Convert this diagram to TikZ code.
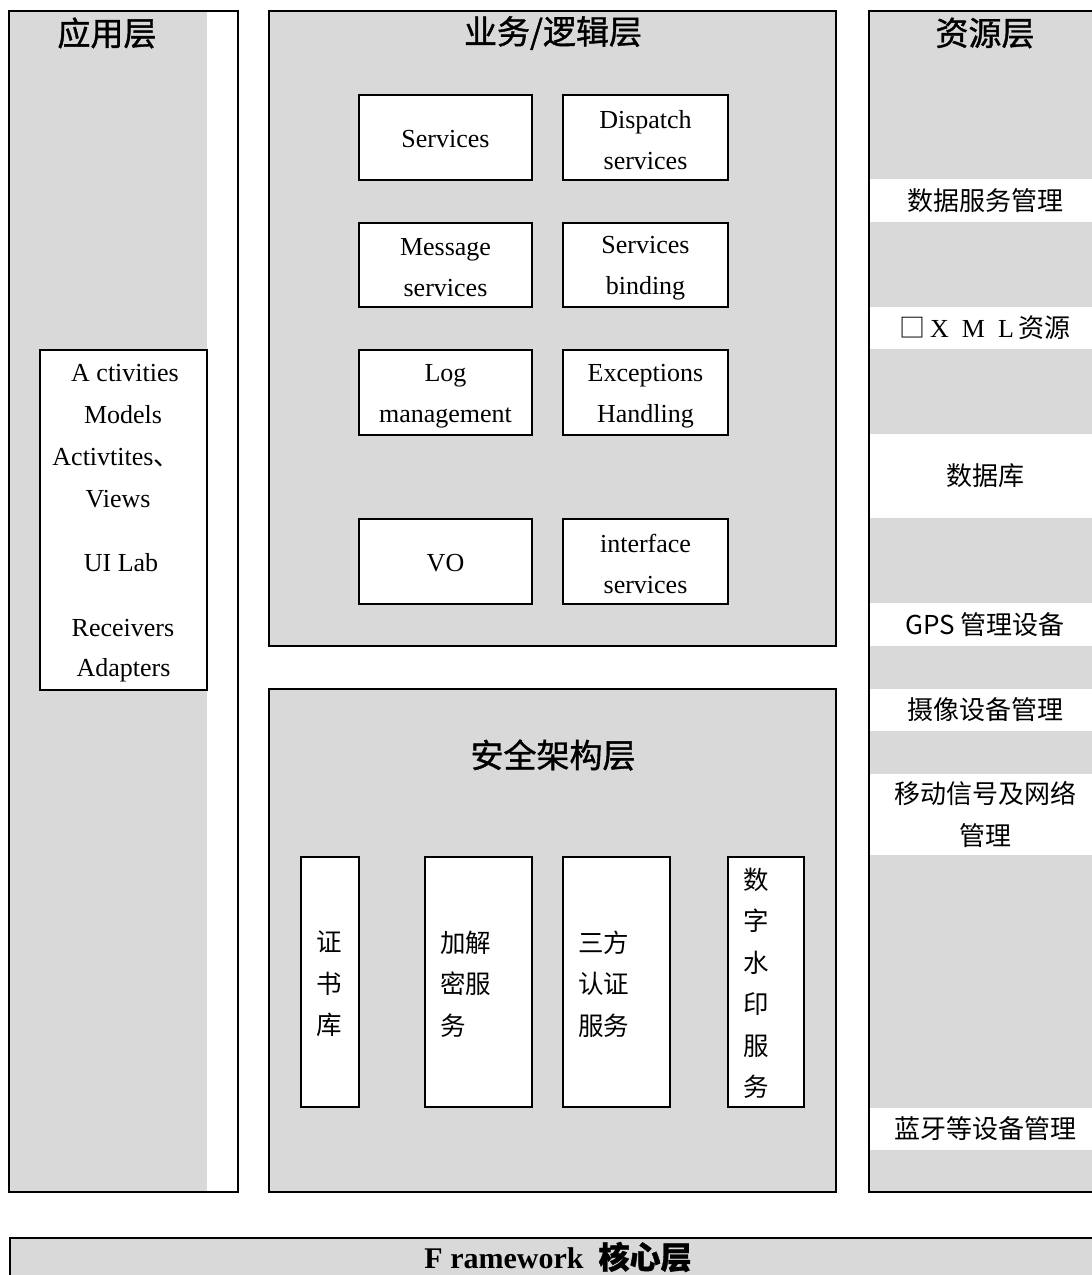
\documentclass[tikz,border=0pt]{standalone}
\usepackage{fontspec}
\setmainfont{Liberation Serif}
\newfontfamily\cjk{Noto Sans CJK SC}
\newfontfamily\cjkt{Noto Sans CJK SC}[FakeBold=1.2]
\definecolor{panel}{RGB}{217,217,217}
\begin{document}
\begin{tikzpicture}[x=1pt,y=-1pt,
  frame/.style={draw=black,line width=1.8pt,inner sep=0pt},
  wbox/.style={draw=black,fill=white,line width=1.6pt,inner sep=0pt},
  lat/.style={font=\fontsize{26}{41}\selectfont,align=center,inner sep=0pt},
  zh/.style={font=\cjk\fontsize{25.5}{41.5}\selectfont,inner sep=0pt},
  zhl/.style={font=\cjk\fontsize{25.5}{41.5}\selectfont,align=left,inner sep=0pt,anchor=west},
  ttl/.style={font=\cjkt\fontsize{33}{36}\selectfont,inner sep=0pt},
  strip/.style={fill=white,draw=none,inner sep=0pt,minimum width=230pt,font=\cjk\fontsize{26}{41.5}\selectfont,align=center}
]
\useasboundingbox (0,0) rectangle (1092,1275);
\clip (0,0) rectangle (1092,1275);

% ---------- application layer ----------
\fill[panel] (9,11) rectangle (207,1192);
\node[frame,minimum width=229pt,minimum height=1181pt] (app) at (123.5,601.5) {};
\node[ttl] (appt) at (107,33) {应用层};
\node[wbox,minimum width=167pt,minimum height=340pt] (ui) at (123.5,520) {};
\node[lat] (a1) at (125,373) {A ctivities};
\node[lat] (a2) at (123,415) {Models};
\node[lat] (a3) at (116,458) {Activtites{\cjk 、}};
\node[lat] (a4) at (118,499) {Views};
\node[lat] (a5) at (121,563) {UI Lab};
\node[lat] (a6) at (123,628) {Receivers};
\node[lat] (a7) at (123.5,670) {Adapters};

% ---------- business / logic layer ----------
\node[frame,fill=panel,minimum width=567pt,minimum height=635pt] (biz) at (552.5,328.5) {};
\node[ttl] (bizt) at (553,33) {业务/逻辑层};
\node[wbox,lat,minimum width=173pt,minimum height=85pt] (s1) at (445.5,137.5) {};
\node[wbox,lat,minimum width=165pt,minimum height=85pt] (s2) at (645.5,137.5) {};
\node[wbox,lat,minimum width=173pt,minimum height=84pt] (s3) at (445.5,265) {};
\node[wbox,lat,minimum width=165pt,minimum height=84pt] (s4) at (645.5,265) {};
\node[wbox,lat,minimum width=173pt,minimum height=85pt] (s5) at (445.5,392.5) {};
\node[wbox,lat,minimum width=165pt,minimum height=85pt] (s6) at (645.5,392.5) {};
\node[wbox,lat,minimum width=173pt,minimum height=85pt] (s7) at (445.5,561.5) {};
\node[wbox,lat,minimum width=165pt,minimum height=85pt] (s8) at (645.5,561.5) {};
\node[lat] (s1t) at (445.5,139.5) {Services};
\node[lat] (s2t) at (645.5,140) {Dispatch\\services};
\node[lat] (s3t) at (445.5,268) {Message\\services};
\node[lat] (s4t) at (645.5,268) {Services\\binding};
\node[lat] (s5t) at (445.5,396) {Log\\management};
\node[lat] (s6t) at (645.5,396) {Exceptions\\Handling};
\node[lat] (s7t) at (445.5,563.5) {VO};
\node[lat] (s8t) at (645.5,564) {interface\\services};

% ---------- security layer ----------
\node[frame,fill=panel,minimum width=567pt,minimum height=503pt] (sec) at (552.5,940.5) {};
\node[ttl] (sect) at (553,755) {安全架构层};
\node[wbox,minimum width=58pt,minimum height=250pt] (k1) at (330,982) {};
\node[wbox,minimum width=107pt,minimum height=250pt] (k2) at (478.5,982) {};
\node[wbox,minimum width=107pt,minimum height=250pt] (k3) at (616.5,982) {};
\node[wbox,minimum width=76pt,minimum height=250pt] (k4) at (766,982) {};
\node[zh,align=center] (k1t) at (329,984) {证\\书\\库};
\node[zhl] (k2t) at (440,984) {加解\\密服\\务};
\node[zhl] (k3t) at (578,984) {三方\\认证\\服务};
\node[zh,align=center] (k4t) at (756,983.5) {数\\字\\水\\印\\服\\务};

% ---------- resource layer ----------
\fill[panel] (869,11) rectangle (1100,1192);
\node[strip,minimum height=43pt] (r1) at (985,200.5) {数据服务管理};
\node[strip,minimum height=42pt] (r2) at (985,328) {□\,{\rmfamily X\ \ M\ \ L\,}资源};
\node[strip,minimum height=84pt] (r3) at (985,476) {数据库};
\node[strip,minimum height=43pt] (r4) at (985,624.5) {GPS 管理设备};
\node[strip,minimum height=42pt] (r5) at (985,710) {摄像设备管理};
\node[strip,minimum height=81pt] (r6) at (985,814.5) {移动信号及网络\\管理};
\node[strip,minimum height=42pt] (r7) at (985,1129) {蓝牙等设备管理};
\node[frame,minimum width=231pt,minimum height=1181pt] (res) at (984.5,601.5) {};
\node[ttl] (rest) at (985,33) {资源层};

% ---------- framework core layer ----------
\node[frame,fill=panel,minimum width=1090pt,minimum height=50pt,anchor=north west] (core) at (9,1237) {};
\node[inner sep=0pt,font=\fontsize{30}{32}\selectfont\bfseries] (coret) at (558,1257) {F ramework\ \ {\cjkt\fontsize{31}{32}\selectfont 核心层}};
\end{tikzpicture}
\end{document}
